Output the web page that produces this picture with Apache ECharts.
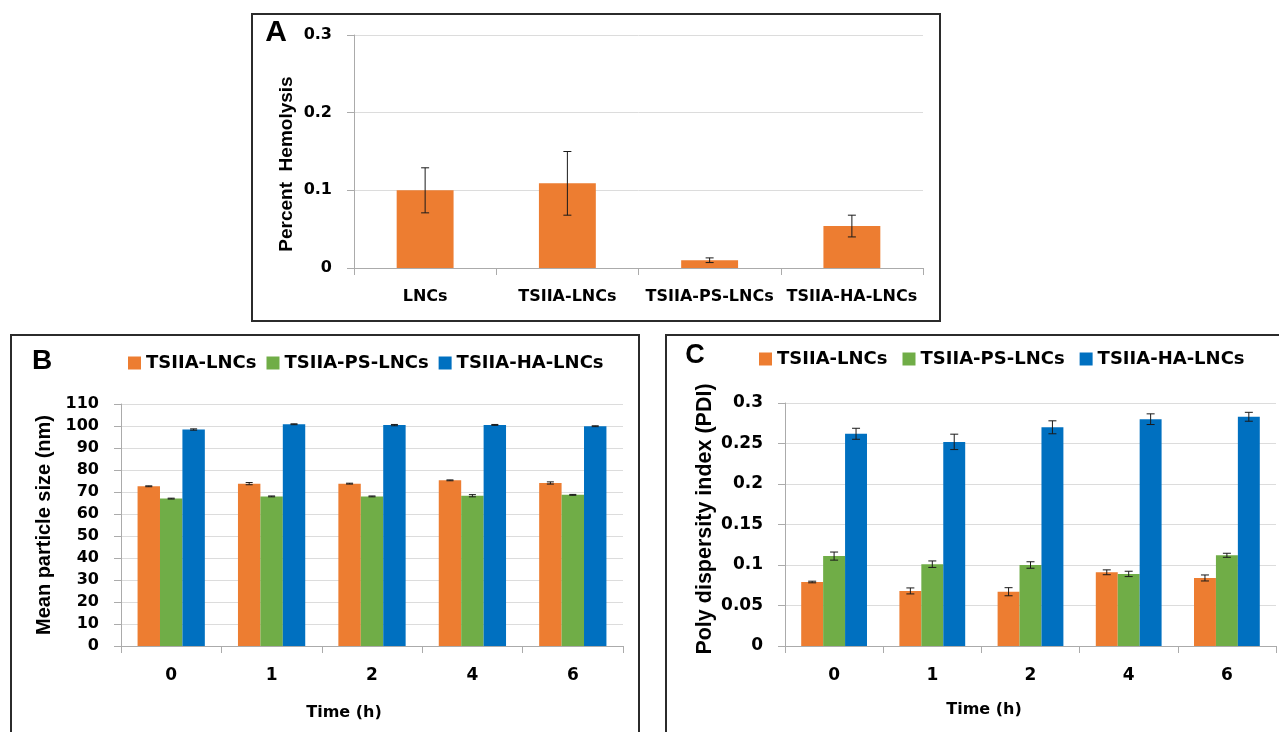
<!DOCTYPE html>
<html>
<head>
<meta charset="utf-8">
<script src="https://cdn.jsdelivr.net/npm/echarts@6/dist/echarts.min.js"></script>
<style>
html,body{margin:0;padding:0;background:#fff;}
#main{width:1279px;height:732px;}
</style>
</head>
<body>
<div id="main"></div>
<script>
// ---------- Data ----------
const aCategories = ['LNCs', 'TSIIA-LNCs', 'TSIIA-PS-LNCs', 'TSIIA-HA-LNCs'];
const aHemolysis = [0.100, 0.109, 0.010, 0.054];
const aHemolysisErr = [0.029, 0.041, 0.003, 0.014];

const timeCategories = ['0', '1', '2', '4', '6'];
const seriesNames = ['TSIIA-LNCs', 'TSIIA-PS-LNCs', 'TSIIA-HA-LNCs'];

const sizeLNC = [72.6, 73.8, 73.8, 75.3, 74.1];
const sizePS = [67.0, 68.0, 68.0, 68.3, 68.7];
const sizeHA = [98.4, 100.8, 100.4, 100.5, 99.9];
const sizeLNCErr = [0.2, 0.5, 0.2, 0.2, 0.5];
const sizePSErr = [0.2, 0.2, 0.2, 0.5, 0.2];
const sizeHAErr = [0.3, 0.2, 0.3, 0.2, 0.2];

const pdiLNC = [0.079, 0.068, 0.067, 0.091, 0.084];
const pdiPS = [0.111, 0.101, 0.100, 0.089, 0.112];
const pdiHA = [0.262, 0.252, 0.270, 0.280, 0.283];
const pdiLNCErr = [0.001, 0.0037, 0.005, 0.003, 0.0037];
const pdiPSErr = [0.005, 0.004, 0.004, 0.0033, 0.0025];
const pdiHAErr = [0.0068, 0.0095, 0.008, 0.0066, 0.0055];

// ---------- Styles ----------
const COLORS = ['#ED7D31', '#70AD47', '#0070C0'];
const CALI = 'DejaVu Sans';
const ARIAL = 'Liberation Sans';
const AXIS_GRAY = '#ABABAB';
const GRID_GRAY = '#DCDCDC';
const GROUP_GAP = 0.33; // barCategoryGap fraction

const chart = echarts.init(document.getElementById('main'), null, {renderer: 'canvas'});

function errorSeries(name, xi, yi, means, errs, slot, nSlots, capHalf) {
  return {
    name: name,
    type: 'custom',
    xAxisIndex: xi,
    yAxisIndex: yi,
    z: 10,
    silent: true,
    data: means.map((m, i) => [i, m, errs[i]]),
    renderItem: function (params, api) {
      const idx = api.value(0), mean = api.value(1), err = api.value(2);
      const catW = api.size([1, 0])[0];
      let off = 0;
      if (nSlots > 1) {
        const bw = catW * (1 - GROUP_GAP) / nSlots;
        off = (slot - (nSlots - 1) / 2) * bw;
      }
      const pTop = api.coord([idx, mean + err]);
      const pBot = api.coord([idx, mean - err]);
      const x = pTop[0] + off;
      const style = {stroke: '#1a1a1a', lineWidth: 1};
      return {
        type: 'group',
        children: [
          {type: 'line', shape: {x1: x, y1: pTop[1], x2: x, y2: pBot[1]}, style: style},
          {type: 'line', shape: {x1: x - capHalf, y1: pTop[1], x2: x + capHalf, y2: pTop[1]}, style: style},
          {type: 'line', shape: {x1: x - capHalf, y1: pBot[1], x2: x + capHalf, y2: pBot[1]}, style: style}
        ]
      };
    }
  };
}

function catAxis(gridIndex, data, fontSize, margin) {
  return {
    type: 'category',
    gridIndex: gridIndex,
    data: data,
    axisLine: {show: true, lineStyle: {color: AXIS_GRAY, width: 1}},
    axisTick: {show: true, length: 7, lineStyle: {color: AXIS_GRAY}},
    axisLabel: {color: '#000', fontFamily: CALI, fontWeight: 'bold', fontSize: fontSize,
                margin: margin, interval: 0, hideOverlap: false},
    splitLine: {show: false}
  };
}

function valAxis(gridIndex, min, max, interval, fontSize) {
  return {
    type: 'value',
    gridIndex: gridIndex,
    min: min, max: max, interval: interval,
    axisLine: {show: true, lineStyle: {color: AXIS_GRAY, width: 1}},
    axisTick: {show: true, length: 7, lineStyle: {color: AXIS_GRAY}},
    axisLabel: {color: '#000', fontFamily: CALI, fontWeight: 'bold', fontSize: fontSize, margin: 22},
    splitLine: {show: true, lineStyle: {color: GRID_GRAY, width: 1}}
  };
}

const sizeSets = [sizeLNC, sizePS, sizeHA];
const sizeErrSets = [sizeLNCErr, sizePSErr, sizeHAErr];
const pdiSets = [pdiLNC, pdiPS, pdiHA];
const pdiErrSets = [pdiLNCErr, pdiPSErr, pdiHAErr];

const series = [];
// Panel A
series.push({
  name: 'Percent Hemolysis', type: 'bar', xAxisIndex: 0, yAxisIndex: 0,
  data: aHemolysis, barWidth: '40%', itemStyle: {color: COLORS[0]}
});
series.push(errorSeries('errA', 0, 0, aHemolysis, aHemolysisErr, 0, 1, 4));
// Panel B
seriesNames.forEach((n, k) => {
  series.push({
    name: n, type: 'bar', xAxisIndex: 1, yAxisIndex: 1, data: sizeSets[k],
    barGap: '0%', barCategoryGap: (GROUP_GAP * 100) + '%', itemStyle: {color: COLORS[k]}
  });
});
seriesNames.forEach((n, k) => {
  series.push(errorSeries('errB' + k, 1, 1, sizeSets[k], sizeErrSets[k], k, 3, 3.5));
});
// Panel C
seriesNames.forEach((n, k) => {
  series.push({
    name: n, type: 'bar', xAxisIndex: 2, yAxisIndex: 2, data: pdiSets[k],
    barGap: '0%', barCategoryGap: (GROUP_GAP * 100) + '%', itemStyle: {color: COLORS[k]}
  });
});
seriesNames.forEach((n, k) => {
  series.push(errorSeries('errC' + k, 2, 2, pdiSets[k], pdiErrSets[k], k, 3, 4));
});

function legendCfg(left, top, gap) {
  return {
    data: seriesNames,
    left: left, top: top,
    itemGap: gap, itemWidth: 13, itemHeight: 13,
    icon: 'rect',
    selectedMode: false,
    textStyle: {color: '#000', fontFamily: CALI, fontWeight: 'bold', fontSize: 18, lineHeight: 20}
  };
}

function txt(text, x, y, size, family, rot) {
  return {
    type: 'text', x: x, y: y, rotation: rot || 0, silent: true,
    style: {text: text, fill: '#000', font: 'bold ' + size + 'px "' + family + '"',
            textAlign: 'center', textVerticalAlign: 'middle'}
  };
}

const option = {
  backgroundColor: '#fff',
  animation: false,
  grid: [
    {left: 354, right: 1279 - 923, top: 35, bottom: 732 - 268, containLabel: false},
    {left: 121, right: 1279 - 623, top: 404, bottom: 732 - 646, containLabel: false},
    {left: 785, right: 1279 - 1276, top: 403, bottom: 732 - 646, containLabel: false}
  ],
  xAxis: [
    catAxis(0, aCategories, 16, 21),
    catAxis(1, timeCategories, 17, 21),
    catAxis(2, timeCategories, 17, 21)
  ],
  yAxis: [
    valAxis(0, 0, 0.3, 0.1, 16),
    valAxis(1, 0, 110, 10, 16),
    valAxis(2, 0, 0.3, 0.05, 17)
  ],
  legend: [legendCfg(123, 348, 10), legendCfg(754, 344, 15)],
  series: series,
  graphic: [
    {type: 'rect', silent: true, shape: {x: 252, y: 14, width: 688, height: 307},
     style: {fill: 'none', stroke: '#2b2b2b', lineWidth: 2}},
    {type: 'rect', silent: true, shape: {x: 11, y: 335, width: 628, height: 420},
     style: {fill: 'none', stroke: '#2b2b2b', lineWidth: 2}},
    {type: 'rect', silent: true, shape: {x: 666, y: 335, width: 640, height: 420},
     style: {fill: 'none', stroke: '#2b2b2b', lineWidth: 2}},
    txt('A', 276, 33, 30, ARIAL),
    txt('B', 42, 361, 28, ARIAL),
    txt('C', 695, 356, 27, ARIAL),
    txt('Percent  Hemolysis', 287, 164, 19, ARIAL, Math.PI / 2),
    txt('Mean particle size (nm)', 44.5, 525, 20, ARIAL, Math.PI / 2),
    txt('Poly dispersity index (PDI)', 705, 519, 21.5, ARIAL, Math.PI / 2),
    txt('Time (h)', 344, 713, 16, CALI),
    txt('Time (h)', 984, 710, 16, CALI)
  ]
};
chart.setOption(option);
</script>
</body>
</html>
